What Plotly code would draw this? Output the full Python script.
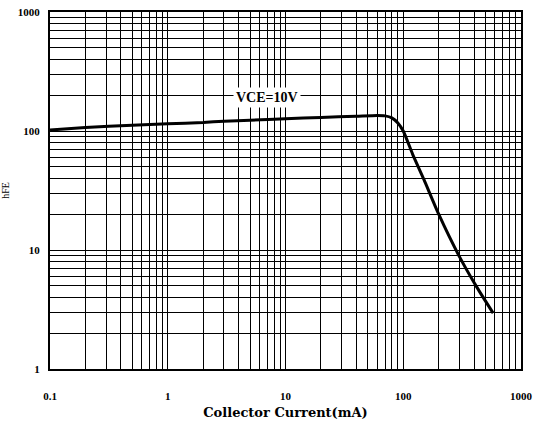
import math
import plotly.graph_objects as go

# Data
collector_current_mA = [0.1, 0.2, 0.5, 1, 2, 3, 5, 10, 20, 40, 60, 70, 80, 90, 100, 120, 150, 200, 300, 420, 580]
hfe = [102, 107, 112, 115, 118, 121, 123, 127, 130, 133, 135, 134, 129, 117, 100, 64, 39, 20, 8.8, 4.9, 2.95]

x_tick_vals = [0.1, 1, 10, 100, 1000]
x_tick_text = ["0.1", "1", "10", "100", "1000"]
y_tick_vals = [1, 10, 100, 1000]
y_tick_text = ["1", "10", "100", "1000"]

annotation_text = "VCE=10V"
annotation_x = 7.0
annotation_y = 193

serif = "Liberation Serif"

fig = go.Figure()
fig.add_trace(go.Scatter(
    x=collector_current_mA, y=hfe, mode="lines",
    line=dict(color="black", width=3, shape="spline", smoothing=0.6),
    showlegend=False, hoverinfo="skip",
))

grid = dict(showgrid=True, gridcolor="black", gridwidth=1)

fig.update_layout(
    width=534, height=422,
    margin=dict(l=50, r=13, t=12, b=53, autoexpand=False),
    paper_bgcolor="white", plot_bgcolor="white",
    xaxis=dict(
        type="log", range=[-1, 3],
        tickvals=x_tick_vals, ticktext=x_tick_text,
        tickfont=dict(family=serif, size=11, color="black", weight="bold"),
        ticks="outside", ticklen=0, ticklabelstandoff=16,
        ticklabeloverflow="allow",
        minor=dict(dtick="D1", **grid),
        showline=True, linecolor="black", linewidth=2, mirror=True,
        automargin=False,
        title=dict(text="Collector Current(mA)", standoff=7,
                   font=dict(family="DejaVu Serif", size=13, color="black", weight="bold")),
        zeroline=False,
        **grid,
    ),
    yaxis=dict(
        type="log", range=[0, 3],
        tickvals=y_tick_vals, ticktext=y_tick_text,
        tickfont=dict(family=serif, size=11, color="black", weight="bold"),
        ticks="outside", ticklen=0, ticklabelstandoff=6,
        ticklabeloverflow="allow",
        minor=dict(dtick="D1", **grid),
        showline=True, linecolor="black", linewidth=2, mirror=True,
        automargin=False,
        title=dict(text="hFE", standoff=12,
                   font=dict(family=serif, size=10, color="black")),
        zeroline=False,
        **grid,
    ),
    annotations=[dict(
        x=math.log10(annotation_x), y=math.log10(annotation_y),
        xref="x", yref="y", text=annotation_text, showarrow=False,
        font=dict(family=serif, size=14, color="black", weight="bold"),
        bgcolor="white", borderpad=2,
    )],
)

# remove the browser's default 8px body margin so the figure sits at the page origin
fig.write_html("out.html", config={"displayModeBar": False},
               post_script="document.body.style.margin='0';")
